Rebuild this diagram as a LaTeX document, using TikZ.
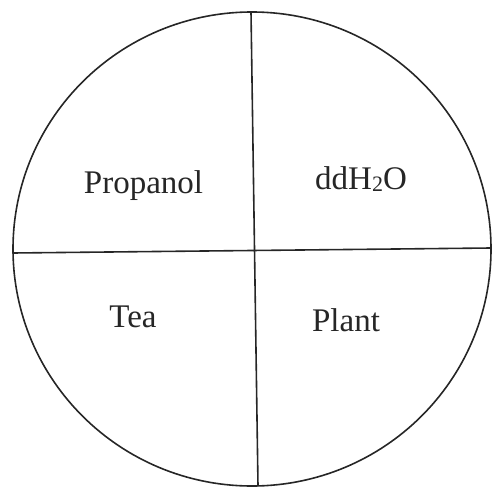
\documentclass[tikz,border=0pt]{standalone}
\usepackage{fontspec}
\usetikzlibrary{shapes.geometric}
\setmainfont{Liberation Serif}
\begin{document}
\begin{tikzpicture}[x=1pt,y=-1pt,
  lbl/.style={anchor=base,inner sep=0pt,font=\fontsize{33}{38}\selectfont,text=black!85},
  ln/.style={line width=1.6pt,black!85}]
\useasboundingbox (0,0) rectangle (492,492);
\node[ln,draw,ellipse,minimum width=478pt,minimum height=474pt,inner sep=0pt] (c) at (252,249) {};
\coordinate (t) at (251,12);
\coordinate (b) at (258,486);
\coordinate (l) at (13,253);
\coordinate (r) at (491,248);
\draw[ln] (t) -- (b);
\draw[ln] (l) -- (r);
\node[lbl] (p1) at (143.5,193) {Propanol};
\node[lbl] (p2) at (361,189) {ddH\raisebox{-0.08em}{\fontsize{22}{24}\selectfont 2}O};
\node[lbl] (p3) at (133,327) {Tea};
\node[lbl] (p4) at (346,331) {Plant};
\end{tikzpicture}
\end{document}
